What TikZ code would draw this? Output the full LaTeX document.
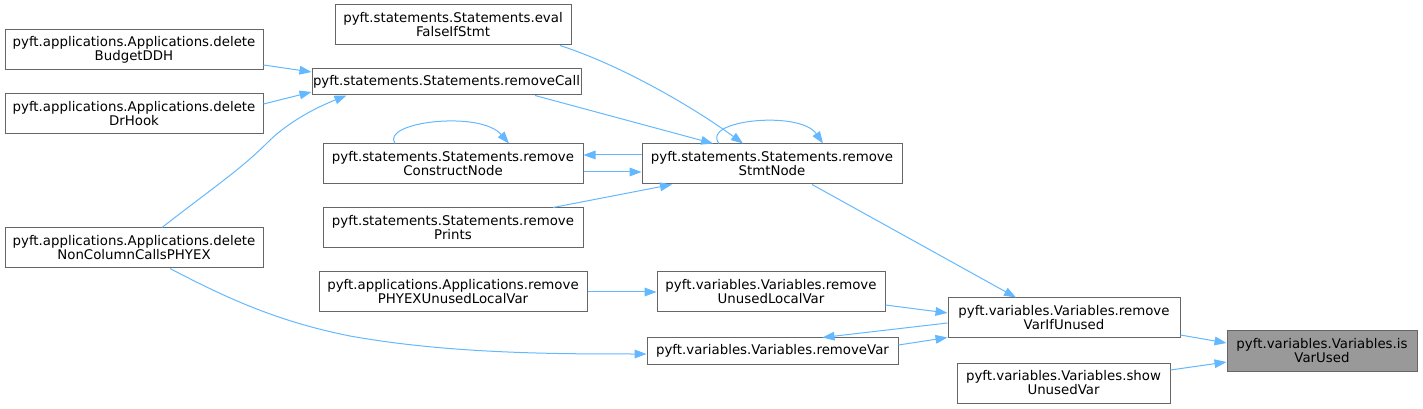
\documentclass[tikz,border=0pt]{standalone}
\usepackage{fontspec}
\setmainfont{DejaVu Sans}
\usepackage{tikz}
\usetikzlibrary{arrows.meta, calc}

\begin{document}
\begin{tikzpicture}[
    x=0.75pt, y=-0.75pt,
    >={Triangle[length=9pt, width=6.5pt]},
    % --- Node styles ---
    funcnode/.style={
        draw=black!60, line width=0.75pt, fill=white,
        minimum width=#1*0.75pt, minimum height=30pt, inner sep=0pt,
        align=center, font=\fontsize{10}{10.5}\selectfont
    },
    funcnode/.default=258,
    callnode/.style={funcnode=#1, minimum height=19.5pt},
    rootnode/.style={funcnode=190, fill=black!40},
    % --- Arrow styles ---
    callflow/.style={->, line width=0.75pt, color={rgb,255:red,99;green,184;blue,255}},
]

\useasboundingbox (0,0) rectangle (1423,409);

% ---- Nodes (column by column) ----
\node[funcnode] (budget) at (134,50) {pyft.applications.Applications.delete\\BudgetDDH};
\node[funcnode] (drhook) at (134,114) {pyft.applications.Applications.delete\\DrHook};
\node[funcnode] (noncol) at (134,248) {pyft.applications.Applications.delete\\NonColumnCallsPHYEX};

\node[funcnode=236] (evalf)    at (453,25)    {pyft.statements.Statements.eval\\FalseIfStmt};
\node[callnode=269] (rmcall)   at (446.5,82)  {pyft.statements.Statements.removeCall};
\node[funcnode=260] (rmcons)   at (453,164)   {pyft.statements.Statements.remove\\ConstructNode};
\node[funcnode=260] (rmprints) at (453,228)   {pyft.statements.Statements.remove\\Prints};
\node[funcnode=268] (rmphyex)  at (453,292)   {pyft.applications.Applications.remove\\PHYEXUnusedLocalVar};

\node[funcnode=260] (rmstmt)   at (772,164)   {pyft.statements.Statements.remove\\StmtNode};
\node[funcnode=228] (rmunused) at (771,292)   {pyft.variables.Variables.remove\\UnusedLocalVar};
\node[callnode=251] (rmvar)    at (772.5,351) {pyft.variables.Variables.removeVar};

\node[funcnode=232] (rmvarif)  at (1064,318)  {pyft.variables.Variables.remove\\VarIfUnused};
\node[funcnode=213] (showun)   at (1063.5,383) {pyft.variables.Variables.show\\UnusedVar};

\node[rootnode] (isvar) at (1322,351) {pyft.variables.Variables.is\\VarUsed};

% ---- Calls into removeCall ----
\draw[callflow] ($(budget.east)+(0,15)$) -- ($(rmcall.west)+(0,-10)$);
\draw[callflow] ($(drhook.east)+(0,-10)$) -- ($(rmcall.west)+(0,10)$);
\draw[callflow] ($(noncol.north)+(28,0)$)
    .. controls (210,190) and (240,170) .. (267,143)
    .. controls (285,125) and (310,110) .. ($(rmcall.south west)+(35,0)$);

% ---- Calls into removeStmtNode ----
\draw[callflow] ($(evalf.south)+(107,0)$)
    .. controls (620,65) and (690,105) .. ($(rmstmt.north)+(-29,0)$);
\draw[callflow] ($(rmcall.south)+(88.5,0)$) -- ($(rmstmt.north)+(-59,0)$);
\draw[callflow] ($(rmstmt.north)+(-53,0)$)
    .. controls (700,120) and (800,110) .. ($(rmstmt.north)+(51,0)$);
\draw[callflow] ($(rmstmt.west)+(0,-9)$) -- ($(rmcons.east)+(0,-9)$);
\draw[callflow] ($(rmcons.east)+(0,8)$) -- ($(rmstmt.west)+(0,8)$);
\draw[callflow] ($(rmcons.north)+(-58,0)$)
    .. controls (380,122) and (480,110) .. ($(rmcons.north)+(56,0)$);
\draw[callflow] ($(rmprints.north)+(100,0)$) -- ($(rmstmt.south)+(-100,0)$);

% ---- Calls into removeVarIfUnused / removeVar ----
\draw[callflow] ($(rmstmt.south)+(40,0)$) -- ($(rmvarif.north)+(-48,0)$);
\draw[callflow] (rmphyex.east) -- (rmunused.west);
\draw[callflow] ($(rmunused.east)+(0,13)$) -- ($(rmvarif.west)+(0,-5)$);
\draw[callflow] ($(rmvarif.west)+(0,5)$) -- ($(rmvar.north)+(50,0)$);
\draw[callflow] ($(rmvar.east)+(0,-6)$) -- ($(rmvarif.south west)+(0,-1)$);
\draw[callflow] ($(noncol.south)+(36,0)$)
    .. controls (230,300) and (280,322) .. (350,336)
    .. controls (450,354) and (560,354) .. ($(rmvar.west)+(0,3)$);

% ---- Calls into isVarUsed ----
\draw[callflow] ($(rmvarif.east)+(0,17)$) -- ($(isvar.west)+(0,-8)$);
\draw[callflow] ($(showun.east)+(0,-13)$) -- ($(isvar.west)+(0,11)$);

\end{tikzpicture}
\end{document}
